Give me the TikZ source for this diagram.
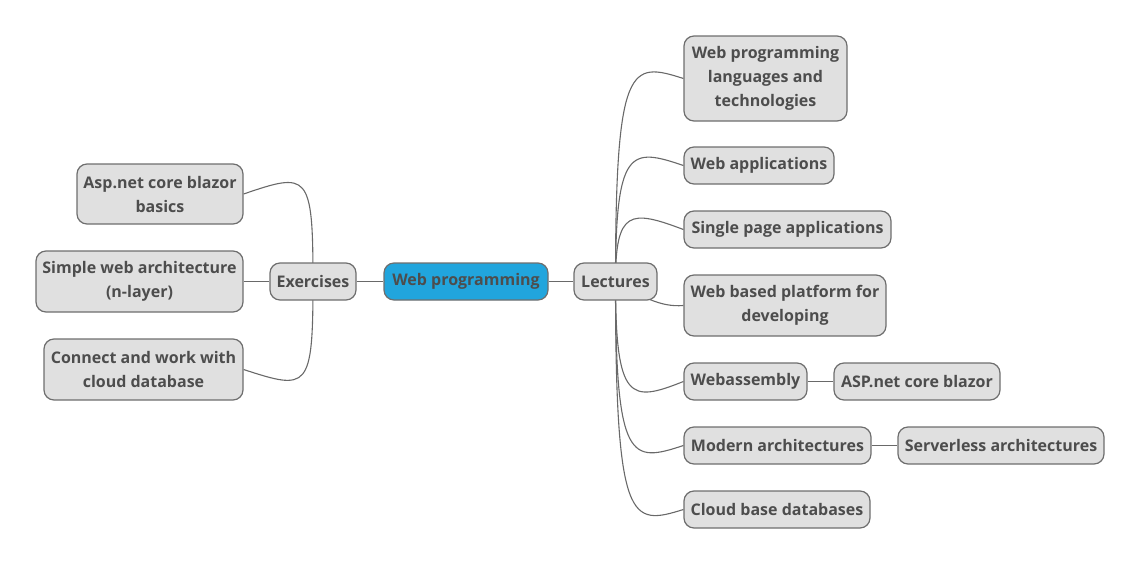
\documentclass[tikz,border=0pt]{standalone}
\usepackage{fontspec}
\setmainfont{Open Sans}
\usetikzlibrary{calc}
\pgfdeclarelayer{bg}
\pgfsetlayers{bg,main}
\definecolor{rootblue}{RGB}{33,165,221}
\definecolor{boxgray}{RGB}{224,224,224}
\definecolor{txtgray}{RGB}{77,77,77}
\definecolor{bordergray}{RGB}{110,110,110}
\definecolor{linegray}{RGB}{105,105,105}
\tikzset{
  topic/.style={draw=bordergray, line width=1.2pt, fill=boxgray, rounded corners=10pt,
    inner sep=0pt, align=center, text=txtgray,
    font=\bfseries\fontsize{16}{24}\selectfont},
  roottopic/.style={topic, fill=rootblue},
  conn/.style={draw=linegray, line width=1.1pt},
}
\begin{document}
\begin{tikzpicture}[x=1pt,y=-1pt]
\useasboundingbox (0,0) rectangle (1141,565);
% nodes
\node[roottopic, minimum width=164, minimum height=37] (root) at (466,281.5) {Web programming};
\node[topic, minimum width=83, minimum height=37] (lec) at (615.5,281.5) {Lectures};
\node[topic, minimum width=86, minimum height=37] (exe) at (313,281.5) {Exercises};
\node[topic, minimum width=166, minimum height=60] (asp) at (160,194) {Asp.net core blazor\\basics};
\node[topic, minimum width=207, minimum height=61] (swa) at (139.5,281.5) {Simple web architecture\\(n-layer)};
\node[topic, minimum width=199, minimum height=61] (cwc) at (143.5,369.5) {Connect and work with\\cloud database};
\node[topic, minimum width=163, minimum height=85] (wpl) at (765.5,78.5) {Web programming\\languages and\\technologies};
\node[topic, minimum width=150, minimum height=37] (wap) at (759,165.5) {Web applications};
\node[topic, minimum width=207, minimum height=37] (spa) at (787.5,229.5) {Single page applications};
\node[topic, minimum width=202, minimum height=61] (wbp) at (785,305.5) {Web based platform for\\developing};
\node[topic, minimum width=123, minimum height=37] (wasm) at (745.5,381.5) {Webassembly};
\node[topic, minimum width=166, minimum height=37] (aspb) at (917,381.5) {ASP.net core blazor};
\node[topic, minimum width=187, minimum height=37] (mod) at (777.5,445.5) {Modern architectures};
\node[topic, minimum width=206, minimum height=37] (srv) at (1001,445.5) {Serverless architectures};
\node[topic, minimum width=186, minimum height=37] (cbd) at (777,509.5) {Cloud base databases};
% connectors
\begin{pgfonlayer}{bg}
\draw[conn] (exe) -- (root);
\draw[conn] (root) -- (lec);
\draw[conn] (swa) -- (exe);
\draw[conn] (wasm) -- (aspb);
\draw[conn] (mod) -- (srv);
% exercises curves
\draw[conn] (exe.center) .. controls ($(exe.center|-asp.east)+(0,-22)$) and ($(exe.center|-asp.east)+(-5,-22)$) .. (asp.east);
\draw[conn] (exe.center) .. controls ($(exe.center|-cwc.east)+(0,21)$) and ($(exe.center|-cwc.east)+(-5,21)$) .. (cwc.east);
% lectures curves
\draw[conn] (lec.center) .. controls ($(lec.center|-wpl.west)+(0,-17)$) and ($(lec.center|-wpl.west)+(15,-17)$) .. (wpl.west);
\draw[conn] (lec.center) .. controls ($(lec.center|-wap.west)+(0,-18)$) and ($(lec.center|-wap.west)+(15,-18)$) .. (wap.west);
\draw[conn] (lec.center) .. controls ($(lec.center|-spa.west)+(0,-20)$) and ($(lec.center|-spa.west)+(15,-20)$) .. (spa.west);
\draw[conn] (lec.center) .. controls ($(lec.center)+(25,14)$) and ($(wbp.west)+(-24,2)$) .. (wbp.west);
\draw[conn] (lec.center) .. controls ($(lec.center|-wasm.west)+(0,21)$) and ($(lec.center|-wasm.west)+(15,21)$) .. (wasm.west);
\draw[conn] (lec.center) .. controls ($(lec.center|-mod.west)+(0,17.5)$) and ($(lec.center|-mod.west)+(15,17.5)$) .. (mod.west);
\draw[conn] (lec.center) .. controls ($(lec.center|-cbd.west)+(0,16.5)$) and ($(lec.center|-cbd.west)+(15,16.5)$) .. (cbd.west);
\end{pgfonlayer}
\end{tikzpicture}
\end{document}
